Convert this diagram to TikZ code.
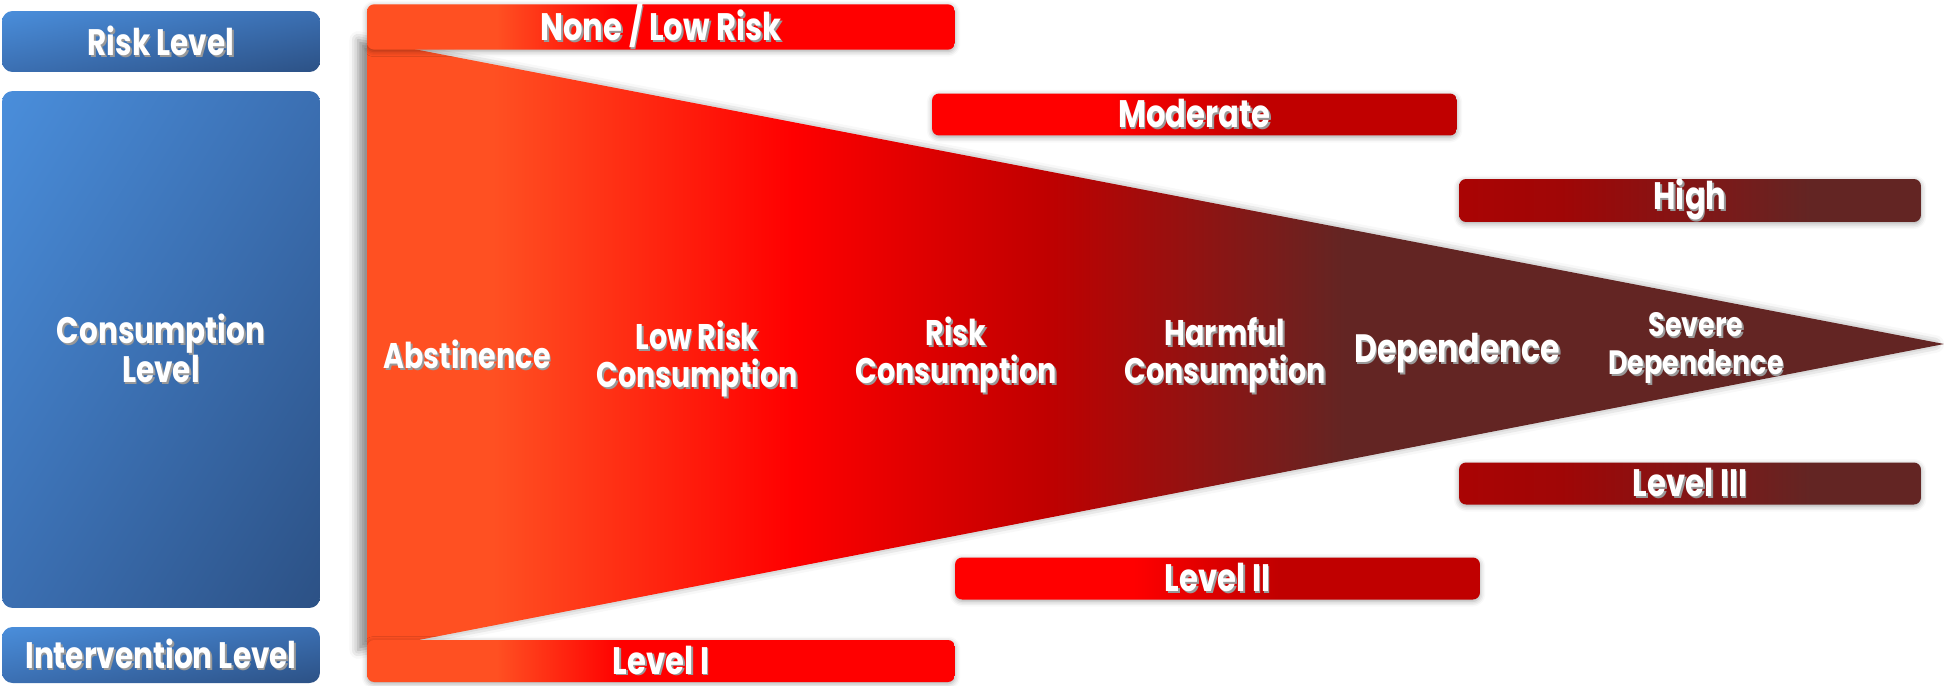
\documentclass[tikz,border=0pt]{standalone}
\usepackage{fontspec}
\setmainfont{Poppins}[FakeStretch=0.8]
\usetikzlibrary{shadings, shadows.blur}

\definecolor{funorange}{HTML}{FF5022}
\definecolor{funred}{HTML}{FF0000}
\definecolor{fundark}{HTML}{C00000}
\definecolor{fundeep}{HTML}{A00606}
\definecolor{funwine}{HTML}{7E1818}
\definecolor{funbrown}{HTML}{632523}
\definecolor{boxlight}{HTML}{4A8EDB}
\definecolor{boxmid}{HTML}{3B6FB2}
\definecolor{boxdark}{HTML}{2C5185}

% colour runs left to right; the shaded path covers 25bp--75bp
\pgfdeclarehorizontalshading{funnelshade}{100bp}{color(0bp)=(funorange); color(29bp)=(funorange);
  color(38.5bp)=(funred); color(46.5bp)=(fundark); color(56bp)=(funbrown); color(100bp)=(funbrown)}
\pgfdeclarehorizontalshading{orangebar}{100bp}{color(0bp)=(funorange); color(36bp)=(funorange);
  color(46.5bp)=(funred); color(100bp)=(funred)}
\pgfdeclarehorizontalshading{redbar}{100bp}{color(0bp)=(funred); color(42bp)=(funred);
  color(56bp)=(fundark); color(100bp)=(fundark)}
\pgfdeclarehorizontalshading{darkbar}{100bp}{color(0bp)=(fundark); color(36bp)=(fundeep);
  color(52bp)=(funwine); color(63bp)=(funbrown); color(100bp)=(funbrown)}

% white label with a dark offset copy behind it
\newcommand{\txtshadow}[1]{\leavevmode\rlap{\kern1pt\raisebox{-1pt}{\color{black!40}#1}}#1}

\begin{document}
\begin{tikzpicture}[x=0.02cm, y=-0.02cm,
    stage/.style={text=white, align=center, inner sep=0pt,
                  font=\bfseries\fontsize{20.3}{21.6}\selectfont},
    bar/.style={rounded corners=4pt, minimum height=0.84cm, inner sep=0pt, text=white,
                font=\bfseries\fontsize{21.8}{22}\selectfont,
                blur shadow={shadow xshift=0pt, shadow yshift=-1pt, shadow blur radius=3pt, shadow opacity=35}},
    side/.style={rounded corners=6pt, minimum width=6.36cm, inner sep=0pt, shade,
                 upper left=boxlight, upper right=boxmid, lower left=boxmid, lower right=boxdark,
                 text=white, align=center, font=\bfseries\fontsize{21}{22.4}\selectfont}]
  \useasboundingbox (0,0) rectangle (1947,686);

  % left column
  \node[side, minimum height=1.22cm] (risk) at (161,41.5) {\txtshadow{Risk Level}};
  \node[side, minimum height=10.34cm] (consumption) at (161,349.5) {\txtshadow{Consumption}\\\txtshadow{Level}};
  \node[side, minimum height=1.12cm] (intervention) at (161,655) {\txtshadow{Intervention Level}};

  % the funnel
  \shade[shading=funnelshade,
         blur shadow={shadow xshift=-5pt, shadow yshift=0pt, shadow blur radius=5pt, shadow opacity=45}]
    (367,40) -- (1944,344) -- (367,650) -- cycle;

  \node[stage] (abstinence) at (467,355) {\txtshadow{Abstinence}};
  \node[stage] (lowrisk) at (697,360) {\txtshadow{Low Risk}\\\txtshadow{Consumption}};
  \node[stage] (riskcons) at (956,356) {\txtshadow{Risk}\\\txtshadow{Consumption}};
  \node[stage] (harmful) at (1225,356) {\txtshadow{Harmful}\\\txtshadow{Consumption}};
  \node[stage, font=\bfseries\fontsize{22.5}{22.5}\selectfont] (dependence) at (1457,354) {\txtshadow{Dependence}};
  \node[stage, font=\bfseries\fontsize{19.2}{21.6}\selectfont] (severe) at (1696,349) {\txtshadow{Severe}\\\txtshadow{Dependence}};

  % risk bars above, intervention bars below
  \node[bar, shading=orangebar, minimum width=11.76cm] (none) at (661,27) {\txtshadow{None / Low Risk}};
  \node[bar, shading=redbar, minimum width=10.5cm] (moderate) at (1194.5,114.5) {\txtshadow{Moderate}};
  \node[bar, shading=darkbar, minimum width=9.24cm] (high) at (1690,200.5) {\txtshadow{High}};
  \node[bar, shading=darkbar, minimum width=9.24cm] (levelthree) at (1690,483.5) {\txtshadow{Level III}};
  \node[bar, shading=redbar, minimum width=10.5cm] (leveltwo) at (1217.5,578.5) {\txtshadow{Level II}};
  \node[bar, shading=orangebar, minimum width=11.76cm] (levelone) at (661,661) {\txtshadow{Level I}};
\end{tikzpicture}
\end{document}
